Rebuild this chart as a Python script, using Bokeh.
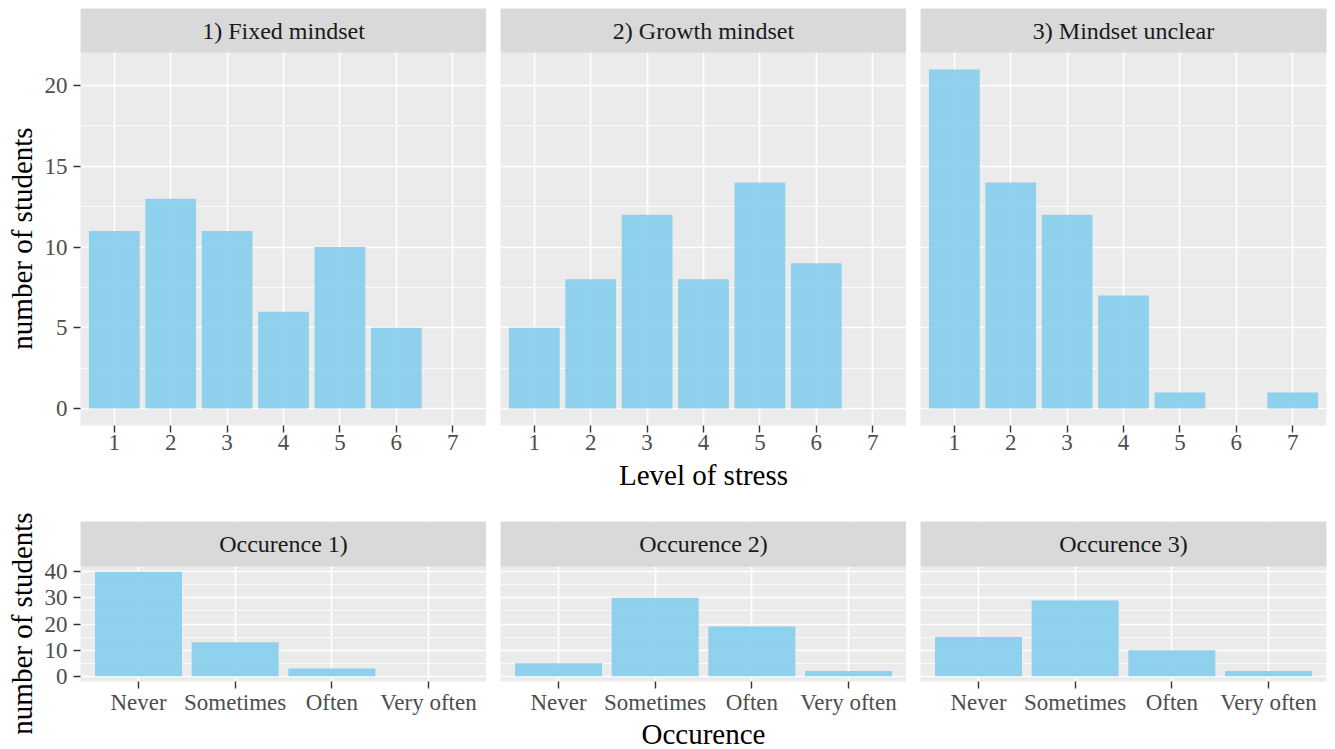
import math

from bokeh.plotting import figure
from bokeh.layouts import row, column
from bokeh.models import (Range1d, FactorRange, FixedTicker, BoxAnnotation, Label)
from bokeh.embed import file_html
from bokeh.resources import INLINE

# ---- data -------------------------------------------------------------
stress_levels = [1, 2, 3, 4, 5, 6, 7]
fixed_counts = [11, 13, 11, 6, 10, 5, 0]
growth_counts = [5, 8, 12, 8, 14, 9, 0]
unclear_counts = [21, 14, 12, 7, 1, 0, 1]
mindset_titles = ["1) Fixed mindset", "2) Growth mindset", "3) Mindset unclear"]

occurence_levels = ["Never", "Sometimes", "Often", "Very often"]
occ1_counts = [40, 13, 3, 0]
occ2_counts = [5, 30, 19, 2]
occ3_counts = [15, 29, 10, 2]
occurence_titles = ["Occurence 1)", "Occurence 2)", "Occurence 3)"]

stress_ticks = [1, 2, 3, 4, 5, 6, 7]
stress_count_ticks = [0, 5, 10, 15, 20]
stress_count_minor = [2.5, 7.5, 12.5, 17.5]
occurence_count_ticks = [0, 10, 20, 30, 40]
occurence_count_minor = [5, 15, 25, 35]

# ---- styling / layout -------------------------------------------------
FONT = "Liberation Serif"
PANEL_BG = "#ebebeb"
STRIP_BG = "#d9d9d9"
BAR = "skyblue"
FRAME_W = 406
GAP = 14
YLAB_W = 38          # column holding the rotated y title
LEFT = 80 - YLAB_W   # room for the y tick labels of the first panel
RIGHT = 9
TICK_SIZE = "23px"
TITLE_SIZE = "29px"


def style_axis(ax, label=None):
    ax.axis_line_color = None
    ax.major_tick_line_color = "#333333"
    ax.major_tick_line_width = 1.4
    ax.major_tick_out = 7
    ax.major_tick_in = 0
    ax.minor_tick_line_color = None
    ax.major_label_text_font = FONT
    ax.major_label_text_font_size = TICK_SIZE
    ax.major_label_text_color = "#4d4d4d"
    ax.axis_label_text_font = FONT
    ax.axis_label_text_font_size = TITLE_SIZE
    ax.axis_label_text_font_style = "normal"
    ax.axis_label_text_color = "black"
    if label is not None:
        ax.axis_label = label


def make_panel(i, x_range, x_mid, y_lo, y_hi, y_ticks, y_minor, panel_h, strip_h,
               top_b, bottom_b, x, counts, title, xlabel, x_ticker=None,
               xlabel_standoff=6, xtick_standoff=2):
    frame_h = panel_h + strip_h
    # data range stretched so that the strip sits above the data area
    y_end = y_lo + (y_hi - y_lo) * frame_h / panel_h
    p = figure(frame_width=FRAME_W, frame_height=frame_h,
               x_range=x_range, y_range=Range1d(y_lo, y_end),
               output_backend="svg", toolbar_location=None,
               min_border_top=top_b, min_border_bottom=bottom_b,
               min_border_left=LEFT if i == 0 else GAP,
               min_border_right=RIGHT if i == 2 else 0)
    p.extra_y_ranges = {"strip": Range1d(0, frame_h)}
    p.background_fill_color = PANEL_BG
    p.border_fill_color = "white"
    p.outline_line_color = None

    p.yaxis.ticker = FixedTicker(ticks=y_ticks, minor_ticks=y_minor)
    if x_ticker is not None:
        p.xaxis.ticker = x_ticker

    p.xgrid.grid_line_color = "white"
    p.xgrid.grid_line_width = 1.6
    p.ygrid.grid_line_color = "white"
    p.ygrid.grid_line_width = 1.6
    p.ygrid.minor_grid_line_color = "white"
    p.ygrid.minor_grid_line_width = 0.8

    style_axis(p.xaxis[0], xlabel if i == 1 else None)
    p.xaxis.major_label_standoff = xtick_standoff
    p.xaxis.axis_label_standoff = xlabel_standoff
    style_axis(p.yaxis[0])
    p.yaxis.major_label_standoff = 6
    if i != 0:
        p.yaxis.visible = False

    p.vbar(x=x, top=counts, bottom=0, width=0.9,
           fill_color=BAR, fill_alpha=0.92, line_color=None)

    # facet strip
    p.add_layout(BoxAnnotation(bottom=panel_h, top=frame_h, y_range_name="strip",
                               fill_color=STRIP_BG, fill_alpha=1.0, line_color=None))
    p.add_layout(Label(x=x_mid, y=panel_h + strip_h / 2,
                       y_range_name="strip", text=title,
                       text_align="center", text_baseline="middle",
                       text_font=FONT, text_font_size="24px",
                       text_color="#1a1a1a"))
    return p


def make_ylabel(text, height, center_from_top):
    f = figure(frame_width=YLAB_W, frame_height=height,
               x_range=Range1d(0, YLAB_W), y_range=Range1d(0, height),
               x_axis_type=None, y_axis_type=None,
               output_backend="svg", toolbar_location=None, min_border=0)
    f.grid.visible = False
    f.background_fill_color = "white"
    f.border_fill_color = "white"
    f.outline_line_color = None
    f.add_layout(Label(x=21, y=height - center_from_top, text=text,
                       angle=math.pi / 2, text_align="center",
                       text_baseline="middle", text_font=FONT,
                       text_font_size=TITLE_SIZE, text_color="black"))
    return f


# ---- top section: level of stress per mindset ------------------------
top_counts = [fixed_counts, growth_counts, unclear_counts]
top_panels = []
for i in range(3):
    xr = Range1d(0.4, 7.6)
    top_panels.append(make_panel(
        i, xr, (xr.start + xr.end) / 2, -1.05, 22.05,
        stress_count_ticks, stress_count_minor,
        373, 44, 8, 72, stress_levels, top_counts[i],
        mindset_titles[i], "Level of stress",
        x_ticker=FixedTicker(ticks=stress_ticks),
        xlabel_standoff=6, xtick_standoff=2))
# the nested column keeps the title column from being frame-aligned with the panels
top_section = row(make_ylabel("number of students", 497, 238),
                  column(row(*top_panels)))

# ---- bottom section: occurence per mindset ---------------------------
bottom_counts = [occ1_counts, occ2_counts, occ3_counts]
bottom_panels = []
for i in range(3):
    xr = FactorRange(factors=occurence_levels, range_padding=0.1,
                     range_padding_units="absolute")
    bottom_panels.append(make_panel(
        i, xr, len(occurence_levels) / 2, -2, 42,
        occurence_count_ticks, occurence_count_minor,
        115, 45, 24, 68, occurence_levels, bottom_counts[i],
        occurence_titles[i], "Occurence",
        xlabel_standoff=0, xtick_standoff=1))
bottom_section = row(make_ylabel("number of students", 252, 126),
                     column(row(*bottom_panels)))

layout = column(top_section, bottom_section)

open("out.html", "w").write(file_html(layout, INLINE))
